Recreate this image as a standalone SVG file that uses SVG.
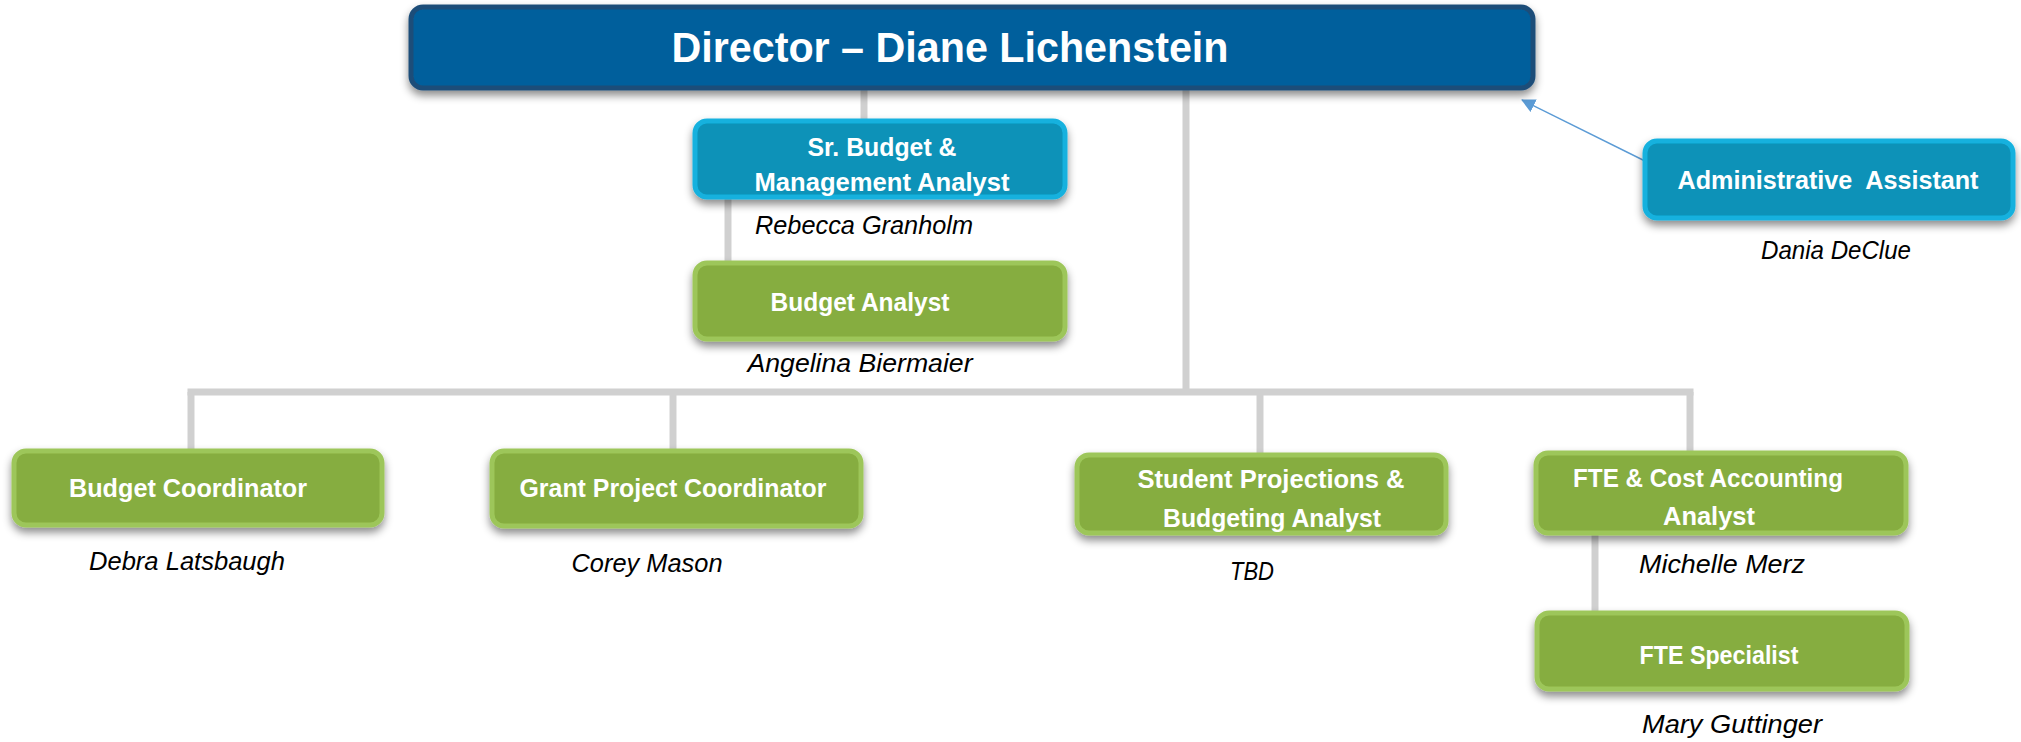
<svg xmlns="http://www.w3.org/2000/svg" width="2021" height="742" viewBox="0 0 2021 742">
<defs>
<filter id="sh" x="-10%" y="-20%" width="120%" height="160%">
<feDropShadow dx="0" dy="5" stdDeviation="4" flood-color="#000" flood-opacity="0.45"/>
</filter>
<marker id="ah" markerWidth="14" markerHeight="14" refX="13" refY="7" orient="auto" markerUnits="userSpaceOnUse" viewBox="0 0 14 14">
<path d="M0,0 L14,7 L0,14 z" fill="#5B9BD5"/>
</marker>
</defs>
<style>
.dir{fill:#005E9C;stroke:#1F4E79;stroke-width:5;filter:url(#sh)}
.blue{fill:#0A92B8;stroke:#14B1DE;stroke-width:5;filter:url(#sh)}
.green{fill:#86AD3F;stroke:#9DC65A;stroke-width:5;filter:url(#sh)}
.t{font-family:"Liberation Sans",Arial,sans-serif;font-weight:bold;fill:#fff;text-anchor:middle;font-size:26px}
.td{font-size:42px}
.n{font-family:"Liberation Sans",Arial,sans-serif;font-style:italic;fill:#000;text-anchor:middle;font-size:25px}
.c{stroke:#D0D0D0;stroke-width:7;fill:none}
</style>
<g id="connectors">
<line class="c" x1="864" y1="88" x2="864" y2="121"/>
<line class="c" x1="1186" y1="88" x2="1186" y2="392"/>
<line class="c" x1="728" y1="197" x2="728" y2="263"/>
<line class="c" x1="187.5" y1="392" x2="1693.5" y2="392"/>
<line class="c" x1="191" y1="392" x2="191" y2="451"/>
<line class="c" x1="673" y1="392" x2="673" y2="451"/>
<line class="c" x1="1260" y1="392" x2="1260" y2="455"/>
<line class="c" x1="1690" y1="392" x2="1690" y2="453"/>
<line class="c" x1="1595" y1="533" x2="1595" y2="613"/>
<line x1="1653" y1="165" x2="1522" y2="100" stroke="#5B9BD5" stroke-width="1.5" marker-end="url(#ah)"/>
</g>
<g id="director">
<rect class="dir" x="411" y="7" width="1122" height="81" rx="12"/>
<text class="t td" x="950" y="62" textLength="557" lengthAdjust="spacingAndGlyphs">Director – Diane Lichenstein</text>
</g>
<g id="sr-budget">
<rect class="blue" x="695" y="121" width="370" height="76" rx="12"/>
<text class="t" x="882" y="156" textLength="149" lengthAdjust="spacingAndGlyphs">Sr. Budget &amp;</text>
<text class="t" x="882" y="191" textLength="255" lengthAdjust="spacingAndGlyphs">Management Analyst</text>
<text class="n" x="864" y="234" textLength="218" lengthAdjust="spacingAndGlyphs">Rebecca Granholm</text>
</g>
<g id="budget-analyst">
<rect class="green" x="695" y="263" width="370" height="76" rx="12"/>
<text class="t" x="860" y="311" textLength="179" lengthAdjust="spacingAndGlyphs">Budget Analyst</text>
<text class="n" x="860" y="372" textLength="225" lengthAdjust="spacingAndGlyphs">Angelina Biermaier</text>
</g>
<g id="admin">
<rect class="blue" x="1645" y="141" width="368" height="77" rx="12"/>
<text class="t" x="1828" y="189" textLength="301" lengthAdjust="spacingAndGlyphs" style="white-space:pre">Administrative  Assistant</text>
<text class="n" x="1836" y="259" textLength="150" lengthAdjust="spacingAndGlyphs">Dania DeClue</text>
</g>
<g id="budget-coordinator">
<rect class="green" x="14" y="451" width="368" height="74" rx="12"/>
<text class="t" x="188" y="497" textLength="238" lengthAdjust="spacingAndGlyphs">Budget Coordinator</text>
<text class="n" x="187" y="570" textLength="196" lengthAdjust="spacingAndGlyphs">Debra Latsbaugh</text>
</g>
<g id="grant-coordinator">
<rect class="green" x="492" y="451" width="369" height="75" rx="12"/>
<text class="t" x="673" y="497" textLength="307" lengthAdjust="spacingAndGlyphs">Grant Project Coordinator</text>
<text class="n" x="647" y="572" textLength="151" lengthAdjust="spacingAndGlyphs">Corey Mason</text>
</g>
<g id="student-projections">
<rect class="green" x="1077" y="455" width="369" height="78" rx="12"/>
<text class="t" x="1271" y="488" textLength="267" lengthAdjust="spacingAndGlyphs">Student Projections &amp;</text>
<text class="t" x="1272" y="527" textLength="218" lengthAdjust="spacingAndGlyphs">Budgeting Analyst</text>
<text class="n" x="1252" y="580" textLength="44" lengthAdjust="spacingAndGlyphs">TBD</text>
</g>
<g id="fte-cost">
<rect class="green" x="1536" y="453" width="370" height="80" rx="12"/>
<text class="t" x="1708" y="487" textLength="270" lengthAdjust="spacingAndGlyphs">FTE &amp; Cost Accounting</text>
<text class="t" x="1709" y="525" textLength="92" lengthAdjust="spacingAndGlyphs">Analyst</text>
<text class="n" x="1722" y="573" textLength="166" lengthAdjust="spacingAndGlyphs">Michelle Merz</text>
</g>
<g id="fte-specialist">
<rect class="green" x="1537" y="613" width="370" height="76" rx="12"/>
<text class="t" x="1719" y="664" textLength="159" lengthAdjust="spacingAndGlyphs">FTE Specialist</text>
<text class="n" x="1732" y="733" textLength="180" lengthAdjust="spacingAndGlyphs">Mary Guttinger</text>
</g>
</svg>
